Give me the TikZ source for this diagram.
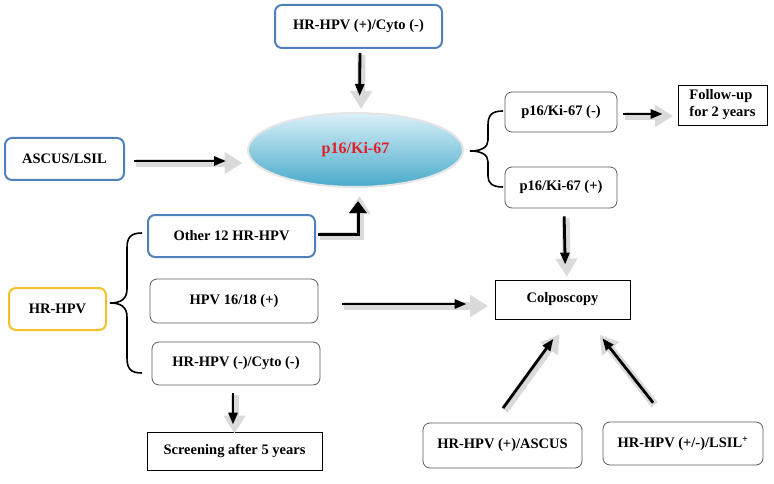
\documentclass[tikz,border=0pt]{standalone}
\usepackage{fontspec}
\setmainfont{Liberation Serif}
\usetikzlibrary{shapes.geometric,arrows.meta}
\definecolor{bluebd}{RGB}{79,129,189}
\definecolor{yellowbd}{RGB}{245,192,40}
\definecolor{ellred}{RGB}{225,30,40}
\definecolor{elltop}{RGB}{218,240,248}
\definecolor{ellbot}{RGB}{72,170,202}
\definecolor{greybd}{RGB}{90,90,90}
\definecolor{shadowgrey}{RGB}{218,218,218}
\tikzset{
  lbl/.style={font=\fontsize{14.5}{17}\selectfont\bfseries, align=center, inner sep=0pt},
  bluebox/.style={lbl, draw=bluebd, line width=2pt, rounded corners=7pt},
  yellowbox/.style={lbl, draw=yellowbd, line width=2pt, rounded corners=7pt},
  greybox/.style={lbl, draw=greybd, line width=0.8pt, rounded corners=7pt},
  plainbox/.style={lbl, draw=black, line width=0.8pt},
  shadowarr/.style={draw=shadowgrey, line width=8pt, -{Triangle[width=21pt,length=18pt]},
    transform canvas={shift={(1.5pt,-2pt)}}},
  blackarr/.style={draw=black, line width=2.8pt, -{Triangle[width=9pt,length=12pt]}},
  bigblackarr/.style={draw=black, line width=3pt, -{Triangle[width=17pt,length=12pt]}},
  bracestyle/.style={draw=black, line width=1.6pt}
}
% #1 from, #2 path operation, #3 to, #4 shorten at start, #5 black shorten at end, #6 grey shorten at end, #7 black style
\newcommand{\darr}[7]{%
  \draw[shadowarr, shorten <=#4, shorten >=#6] #1 #2 #3;
  \draw[#7, shorten <=#4, shorten >=#5] #1 #2 #3;}
\begin{document}
\begin{tikzpicture}[x=1pt,y=-1pt]
\useasboundingbox (0,0) rectangle (774,484);
% nodes
\node[bluebox, minimum width=167pt, minimum height=43pt] (top) at (358.5,26.5) {HR-HPV (+)/Cyto (-)};
\node[ellipse, minimum width=215pt, minimum height=74pt, inner sep=0pt,
  top color=elltop, bottom color=ellbot, draw=gray!20, line width=2pt,
  text=ellred, font=\fontsize{16}{18}\selectfont\bfseries] (ell) at (355.5,150) {p16/Ki-67};
\node[bluebox, minimum width=119pt, minimum height=42pt] (ascus) at (64.5,159) {ASCUS/LSIL};
\node[bluebox, minimum width=167pt, minimum height=42pt] (other) at (231.5,236) {Other 12 HR-HPV};
\node[greybox, minimum width=168pt, minimum height=44pt] (hpv) at (234,301) {HPV 16/18 (+)};
\node[yellowbox, minimum width=97pt, minimum height=42pt] (hrhpv) at (57.5,309) {HR-HPV};
\node[greybox, minimum width=168pt, minimum height=43pt] (neg) at (236,363.5) {HR-HPV (-)/Cyto (-)};
\node[plainbox, minimum width=175pt, minimum height=38pt] (screen) at (234.5,451) {Screening after 5 years};
\node[plainbox, minimum width=135pt, minimum height=39pt] (colpo) at (562.5,299.5) {Colposcopy};
\node[greybox, minimum width=112pt, minimum height=40pt] (p16m) at (561,112) {p16/Ki-67 (-)};
\node[greybox, minimum width=112pt, minimum height=41pt] (p16p) at (561,187.5) {p16/Ki-67 (+)};
\node[plainbox, minimum width=89pt, minimum height=40pt, align=left] (follow) at (722.5,105) {Follow-up\\for 2 years};
\node[greybox, minimum width=159pt, minimum height=45pt] (ascus2) at (502.5,445.5) {HR-HPV (+)/ASCUS};
\node[greybox, minimum width=160pt, minimum height=43pt] (lsil) at (683,443.5) {HR-HPV (+/-)/LSIL\textsuperscript{+}};
% braces
\draw[bracestyle] (142,233) .. controls (131,233) and (127,237) .. (127,248) -- (127,289)
  .. controls (127,299) and (121,303) .. (110,303)
  .. controls (121,303) and (127,307) .. (127,317) -- (127,358)
  .. controls (127,369) and (131,373) .. (142,373);
\draw[bracestyle] (503,111) .. controls (492,111) and (488,115) .. (488,125) -- (488,140)
  .. controls (488,147) and (482,151) .. (470,151)
  .. controls (482,151) and (488,155) .. (488,162) -- (488,176)
  .. controls (488,183) and (492,187) .. (503,187);
% arrows
\darr{([xshift=1.5]top.south)}{--}{([xshift=4]ell.north)}{4}{16}{5}{blackarr}
\darr{([yshift=-2]ascus.east)}{--}{([yshift=-2]ascus.east -| ell.west)}{9}{21}{6}{blackarr}
\darr{([yshift=2]other.east)}{-|}{([xshift=2.5]ell.south)}{2}{13}{6}{bigblackarr}
\darr{([yshift=-3]hpv.east)}{--}{([yshift=-3]hpv.east -| colpo.west)}{24}{28}{8}{blackarr}
\darr{([xshift=3]p16p.south)}{--}{([xshift=3]colpo.north)}{8}{15}{5}{blackarr}
\darr{([yshift=-2]p16m.east)}{--}{([yshift=-2]p16m.east -| follow.west)}{6}{15}{6}{blackarr}
\darr{([xshift=-3]neg.south)}{--}{([xshift=-1.5]screen.north)}{8}{7}{0}{blackarr}
\darr{([xshift=-10]ascus2.north)}{--}{([xshift=5]colpo.south)}{18}{24}{16}{blackarr}
\darr{([xshift=-15]lsil.north)}{--}{([xshift=25]colpo.south)}{24}{24}{17}{blackarr}
\end{tikzpicture}
\end{document}
